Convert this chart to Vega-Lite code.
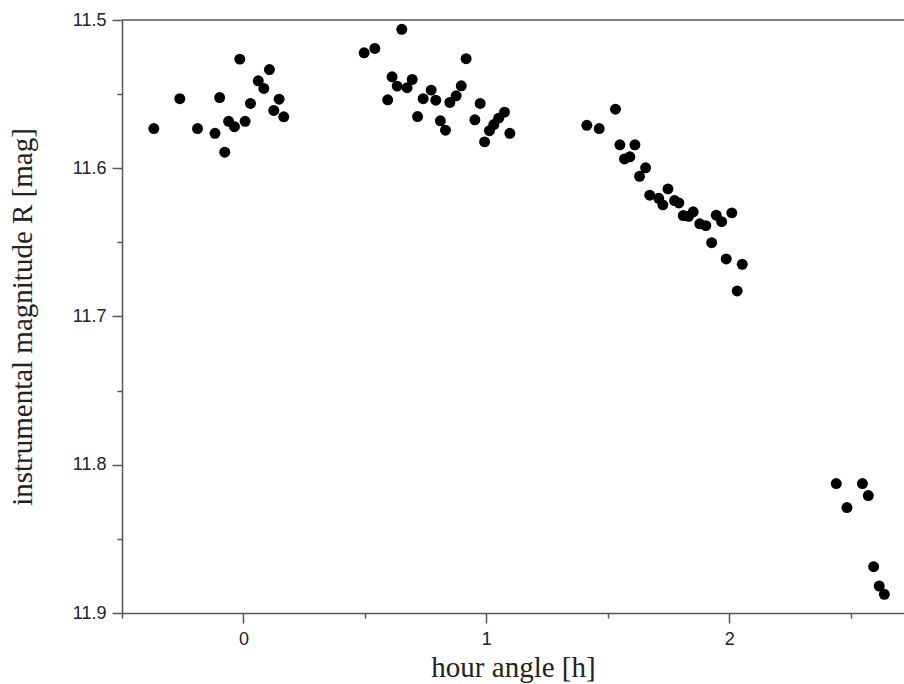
{
  "$schema": "https://vega.github.io/schema/vega-lite/v6.json",
  "width": 782,
  "height": 593,
  "autosize": {"type": "none"},
  "padding": {"left": 122, "top": 20, "right": 0, "bottom": 71},
  "background": "white",
  "config": {
    "view": {"stroke": null},
    "axis": {
      "grid": false,
      "labelFont": "Liberation Sans",
      "labelFontSize": 18,
      "labelColor": "#222",
      "titleFont": "Liberation Serif",
      "titleFontSize": 29,
      "titleFontWeight": "normal",
      "titleColor": "#222",
      "domainColor": "#555",
      "domainWidth": 1.5,
      "tickColor": "#555",
      "tickWidth": 1.5
    }
  },
  "data": {
    "values": [
      {"h": -0.369, "m": 11.5732}, {"h": -0.262, "m": 11.5531}, {"h": -0.189, "m": 11.5732},
      {"h": -0.117, "m": 11.5764}, {"h": -0.098, "m": 11.5523}, {"h": -0.077, "m": 11.5892},
      {"h": -0.061, "m": 11.5683}, {"h": -0.037, "m": 11.5720}, {"h": -0.015, "m": 11.5264},
      {"h": 0.007, "m": 11.5683}, {"h": 0.029, "m": 11.5563}, {"h": 0.061, "m": 11.5410},
      {"h": 0.084, "m": 11.5462}, {"h": 0.107, "m": 11.5334}, {"h": 0.147, "m": 11.5534},
      {"h": 0.125, "m": 11.5610}, {"h": 0.166, "m": 11.5653},
      {"h": 0.497, "m": 11.5221}, {"h": 0.541, "m": 11.5192}, {"h": 0.652, "m": 11.5063},
      {"h": 0.594, "m": 11.5538}, {"h": 0.612, "m": 11.5383}, {"h": 0.633, "m": 11.5446},
      {"h": 0.674, "m": 11.5457}, {"h": 0.695, "m": 11.5401}, {"h": 0.717, "m": 11.5651},
      {"h": 0.740, "m": 11.5531}, {"h": 0.773, "m": 11.5473}, {"h": 0.792, "m": 11.5541},
      {"h": 0.811, "m": 11.5680}, {"h": 0.832, "m": 11.5743}, {"h": 0.850, "m": 11.5556},
      {"h": 0.876, "m": 11.5511}, {"h": 0.897, "m": 11.5444}, {"h": 0.917, "m": 11.5261},
      {"h": 0.953, "m": 11.5673}, {"h": 0.975, "m": 11.5563}, {"h": 0.993, "m": 11.5822},
      {"h": 1.013, "m": 11.5747}, {"h": 1.031, "m": 11.5705}, {"h": 1.051, "m": 11.5662},
      {"h": 1.075, "m": 11.5622}, {"h": 1.097, "m": 11.5764},
      {"h": 1.414, "m": 11.5710}, {"h": 1.465, "m": 11.5732}, {"h": 1.532, "m": 11.5602},
      {"h": 1.550, "m": 11.5842}, {"h": 1.612, "m": 11.5842}, {"h": 1.569, "m": 11.5937},
      {"h": 1.591, "m": 11.5923}, {"h": 1.656, "m": 11.5997}, {"h": 1.631, "m": 11.6054},
      {"h": 1.673, "m": 11.6182}, {"h": 1.748, "m": 11.6139}, {"h": 1.710, "m": 11.6203},
      {"h": 1.727, "m": 11.6247}, {"h": 1.775, "m": 11.6218}, {"h": 1.793, "m": 11.6234},
      {"h": 1.811, "m": 11.6319}, {"h": 1.833, "m": 11.6324}, {"h": 1.852, "m": 11.6294},
      {"h": 1.879, "m": 11.6375}, {"h": 1.904, "m": 11.6387}, {"h": 1.947, "m": 11.6317},
      {"h": 1.969, "m": 11.6360}, {"h": 2.011, "m": 11.6301}, {"h": 1.928, "m": 11.6502},
      {"h": 1.988, "m": 11.6612}, {"h": 2.054, "m": 11.6648}, {"h": 2.033, "m": 11.6828},
      {"h": 2.441, "m": 11.8127}, {"h": 2.549, "m": 11.8127}, {"h": 2.573, "m": 11.8208},
      {"h": 2.485, "m": 11.8289}, {"h": 2.595, "m": 11.8688}, {"h": 2.618, "m": 11.8818},
      {"h": 2.639, "m": 11.8874}
    ]
  },
  "layer": [
    {
      "data": {"values": [{}]},
      "mark": {"type": "rule", "color": "#555", "strokeWidth": 1.5},
      "encoding": {
        "y": {"datum": 11.5, "type": "quantitative", "axis": null,
              "scale": {"domain": [11.5, 11.9], "reverse": true, "nice": false, "zero": false}}
      }
    },
    {
      "mark": {"type": "point", "opacity": 0},
      "encoding": {
        "x": {"field": "h", "type": "quantitative",
              "scale": {"domain": [-0.5, 2.72], "nice": false, "zero": false},
              "axis": {"orient": "bottom", "values": [-0.5, 0.5, 1.5, 2.5], "labels": false, "domain": false, "tickSize": 5, "title": null}},
        "y": {"field": "m", "type": "quantitative",
              "axis": {"orient": "left", "values": [11.55, 11.65, 11.75, 11.85], "labels": false, "domain": false, "tickSize": 5, "title": null}}
      }
    },
    {
      "mark": {"type": "circle", "color": "black", "opacity": 1, "size": 120},
      "encoding": {
        "x": {"field": "h", "type": "quantitative",
              "axis": {"orient": "bottom", "values": [0, 1, 2], "format": "d", "tickSize": 10, "labelPadding": 7,
                       "title": "hour angle [h]", "titlePadding": 5}},
        "y": {"field": "m", "type": "quantitative",
              "axis": {"orient": "left", "values": [11.5, 11.6, 11.7, 11.8, 11.9], "format": ".1f", "tickSize": 10, "labelPadding": 6,
                       "title": "instrumental magnitude R [mag]", "titlePadding": 35}}
      }
    }
  ],
  "resolve": {"axis": {"x": "independent", "y": "independent"}}
}
